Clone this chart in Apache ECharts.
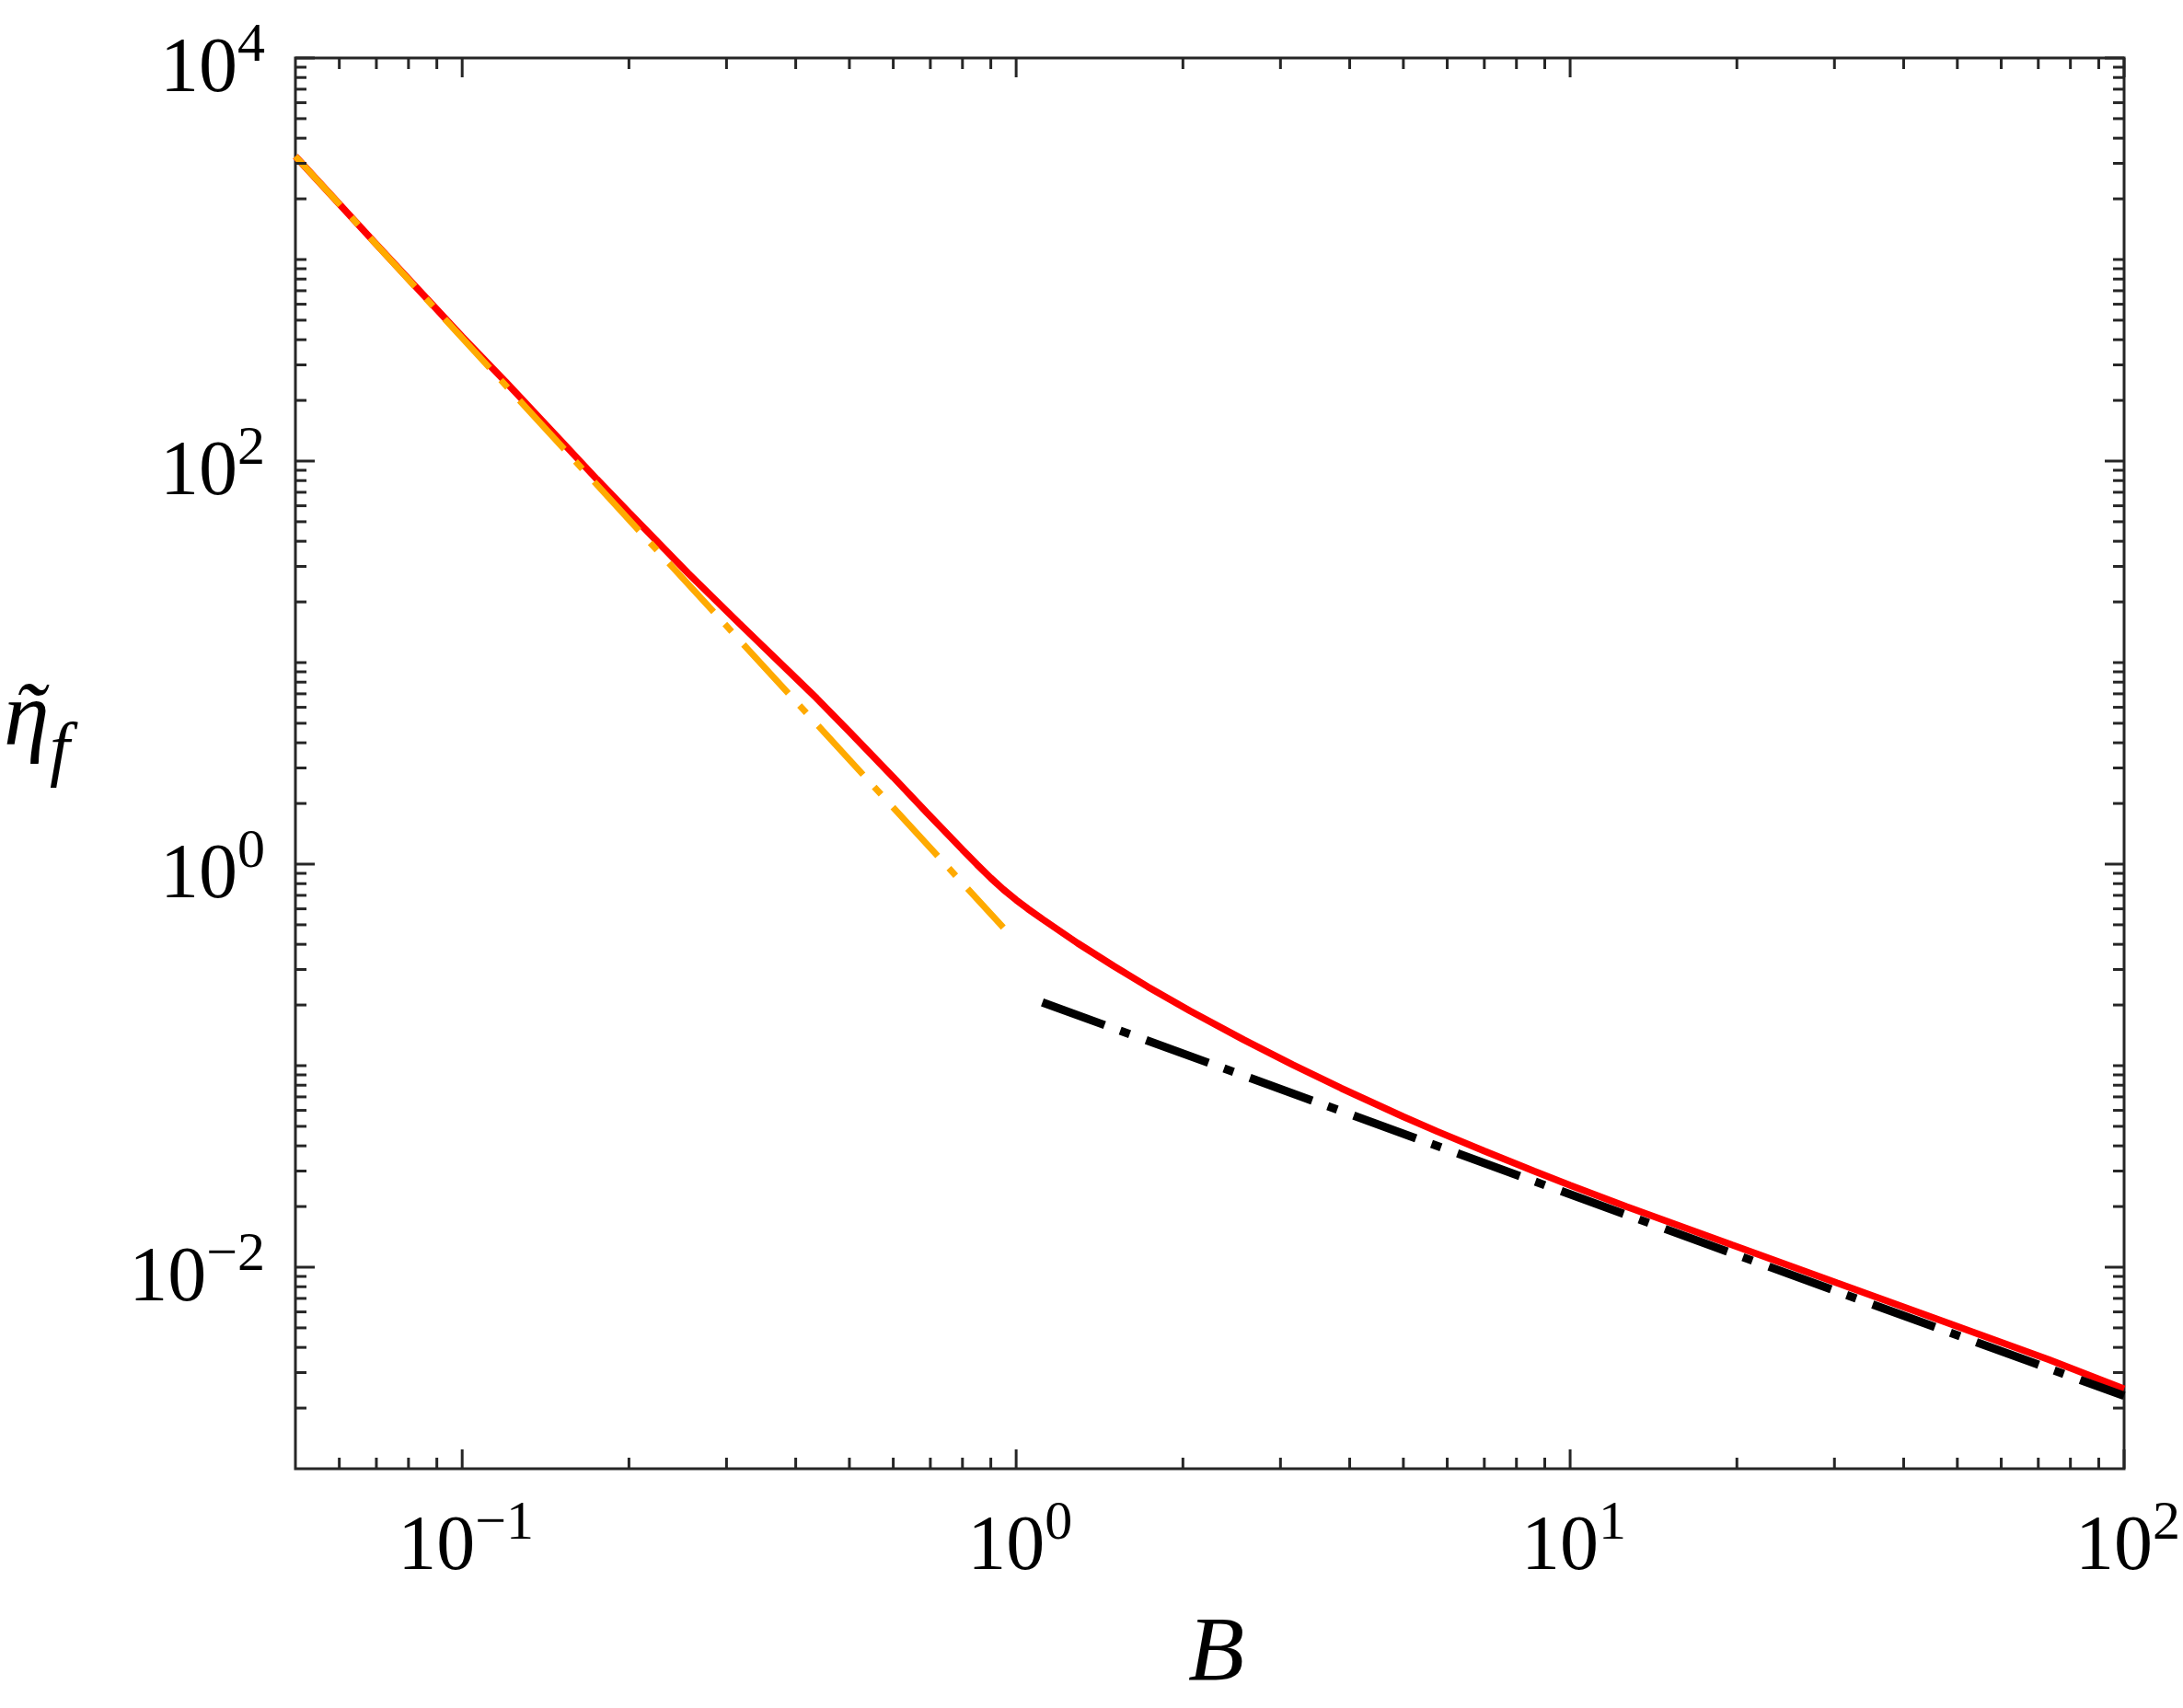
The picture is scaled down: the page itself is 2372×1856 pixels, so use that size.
<!DOCTYPE html>
<html>
<head>
<meta charset="utf-8">
<script src="https://cdn.jsdelivr.net/npm/echarts@6/dist/echarts.min.js"></script>
<style>
html,body{margin:0;padding:0;background:#fff;}
#chart{width:2372px;height:1856px;}
</style>
</head>
<body>
<div id="chart"></div>
<script>
// ---- data ----
const redB   = [0.05, 0.07, 0.1, 0.12, 0.15, 0.175, 0.2, 0.256, 0.316, 0.38, 0.436, 0.5, 0.6, 0.69, 0.8, 0.85, 0.9, 0.948, 1.0, 1.05, 1.117, 1.29, 1.5, 1.73, 2.06, 2.58, 3.16, 3.86, 5.0, 5.75, 7.0, 8.6, 10, 12.65, 19.6, 30.3, 47, 73, 100];
const redEta = [3250, 1190, 414, 246, 128, 81.3, 55.6, 27.7, 15.7, 9.62, 6.67, 4.54, 2.70, 1.80, 1.18, 0.995, 0.853, 0.749, 0.664, 0.600, 0.532, 0.406, 0.312, 0.246, 0.187, 0.134, 0.1009, 0.0773, 0.0558, 0.0472, 0.0377, 0.0300, 0.0255, 0.01998, 0.01290, 0.00836, 0.00541, 0.003485, 0.00249];

const orangeB   = [0.05, 0.948];
const orangeEta = [3250, 0.485];

const blackB   = [1.115, 100];
const blackEta = [0.206, 0.0023];

const xMajorTicks = [0.1, 1, 10, 100];
const xMinorTicks = [0.06, 0.07, 0.08, 0.09,
  0.2, 0.3, 0.4, 0.5, 0.6, 0.7, 0.8, 0.9,
  2, 3, 4, 5, 6, 7, 8, 9,
  20, 30, 40, 50, 60, 70, 80, 90];
const yMajorTicks = [0.01, 1, 100, 10000];
const yMinorTicks = [0.002, 0.003, 0.004, 0.005, 0.006, 0.007, 0.008, 0.009,
  0.02, 0.03, 0.04, 0.05, 0.06, 0.07, 0.08, 0.09, 0.1,
  0.2, 0.3, 0.4, 0.5, 0.6, 0.7, 0.8, 0.9,
  2, 3, 4, 5, 6, 7, 8, 9, 10,
  20, 30, 40, 50, 60, 70, 80, 90,
  200, 300, 400, 500, 600, 700, 800, 900, 1000,
  2000, 3000, 4000, 5000, 6000, 7000, 8000, 9000];
const xLabelExponents = [-1, 0, 1, 2];
const yLabelExponents = [-2, 0, 2, 4];

// ---- helpers ----
const AX = '#262626';
const SERIF = 'Liberation Serif';

function pairs(xs, ys) { return xs.map((x, i) => [x, ys[i]]); }

function expLabel(v, allowed) {
  const l = Math.log10(v);
  const e = Math.round(l);
  if (Math.abs(l - e) > 1e-6 || allowed.indexOf(e) < 0) return '';
  return '{b|10}{s|' + (e < 0 ? '\u2212' + (-e) : String(e)) + '}';
}

function tickSeries(values, len, dir) {
  return {
    type: 'custom',
    silent: true,
    z: 10,
    clip: false,
    data: values.map(v => dir === 'x' ? [v, 1] : [1, v]),
    renderItem: function (params, api) {
      const cs = params.coordSys;
      const p = api.coord([api.value(0), api.value(1)]);
      const st = { stroke: AX, lineWidth: 3 };
      if (dir === 'x') {
        const b = cs.y + cs.height, t = cs.y;
        return { type: 'group', children: [
          { type: 'line', shape: { x1: p[0], y1: b, x2: p[0], y2: b - len }, style: st },
          { type: 'line', shape: { x1: p[0], y1: t, x2: p[0], y2: t + len }, style: st }
        ]};
      } else {
        const l = cs.x, r = cs.x + cs.width;
        return { type: 'group', children: [
          { type: 'line', shape: { x1: l, y1: p[1], x2: l + len, y2: p[1] }, style: st },
          { type: 'line', shape: { x1: r, y1: p[1], x2: r - len, y2: p[1] }, style: st }
        ]};
      }
    }
  };
}

const richBase = {
  b: { fontFamily: SERIF, fontSize: 84, height: 84, lineHeight: 112, verticalAlign: 'bottom', color: '#000' },
  s: { fontFamily: SERIF, fontSize: 60, height: 60, lineHeight: 60, verticalAlign: 'top', padding: [13, 0, 0, 0], color: '#000' }
};
const richX = {
  b: Object.assign({}, richBase.b, { padding: [0, 0, 0, 8] }),
  s: richBase.s
};

const chart = echarts.init(document.getElementById('chart'), null, { renderer: 'canvas' });

const option = {
  animation: false,
  backgroundColor: '#fff',
  grid: {
    left: 321, right: 60, top: 63, bottom: 260,
    show: true, borderColor: AX, borderWidth: 3, backgroundColor: 'transparent'
  },
  xAxis: {
    type: 'log', logBase: 10, min: 0.05, max: 100,
    axisLine: { show: false }, axisTick: { show: false }, splitLine: { show: false },
    axisLabel: {
      margin: 17,
      formatter: v => expLabel(v, xLabelExponents),
      rich: richX
    },
    name: 'B',
    nameLocation: 'middle',
    nameGap: 153,
    nameTextStyle: { fontFamily: SERIF, fontStyle: 'italic', fontSize: 100, color: '#000', padding: [0, 0, 0, 14] }
  },
  yAxis: {
    type: 'log', logBase: 10, min: 0.001, max: 10000,
    axisLine: { show: false }, axisTick: { show: false }, splitLine: { show: false },
    axisLabel: {
      margin: 33,
      formatter: v => expLabel(v, yLabelExponents),
      rich: richBase
    }
  },
  graphic: [
    { type: 'text', x: 4, y: 783, silent: true,
      style: { text: '\u03b7', font: 'italic 100px "Liberation Serif"', fill: '#000', align: 'left', verticalAlign: 'middle' } },
    { type: 'text', x: 14, y: 785, silent: true,
      style: { text: '\u02dc', font: 'italic 100px "Liberation Serif"', fill: '#000', align: 'left', verticalAlign: 'middle' } },
    { type: 'text', x: 54, y: 818, silent: true,
      style: { text: 'f', font: 'italic 78px "Liberation Serif"', fill: '#000', align: 'left', verticalAlign: 'middle' } }
  ],
  series: [
    {
      type: 'line', name: 'full', data: pairs(redB, redEta),
      showSymbol: false, symbol: 'none', smooth: false, z: 2,
      lineStyle: { color: '#ff0000', width: 7.5 }
    },
    {
      type: 'line', name: 'small B', data: pairs(orangeB, orangeEta),
      showSymbol: false, symbol: 'none', z: 3,
      lineStyle: { color: '#ffaa00', width: 7, type: [72, 18, 11, 19] }
    },
    {
      type: 'line', name: 'large B', data: pairs(blackB, blackEta),
      showSymbol: false, symbol: 'none', z: 4,
      lineStyle: { color: '#000000', width: 9, type: [72, 18, 11, 19] }
    },
    tickSeries(xMajorTicks, 21, 'x'),
    tickSeries(xMinorTicks, 12, 'x'),
    tickSeries(yMajorTicks, 21, 'y'),
    tickSeries(yMinorTicks, 12, 'y')
  ]
};

chart.setOption(option);
</script>
</body>
</html>
